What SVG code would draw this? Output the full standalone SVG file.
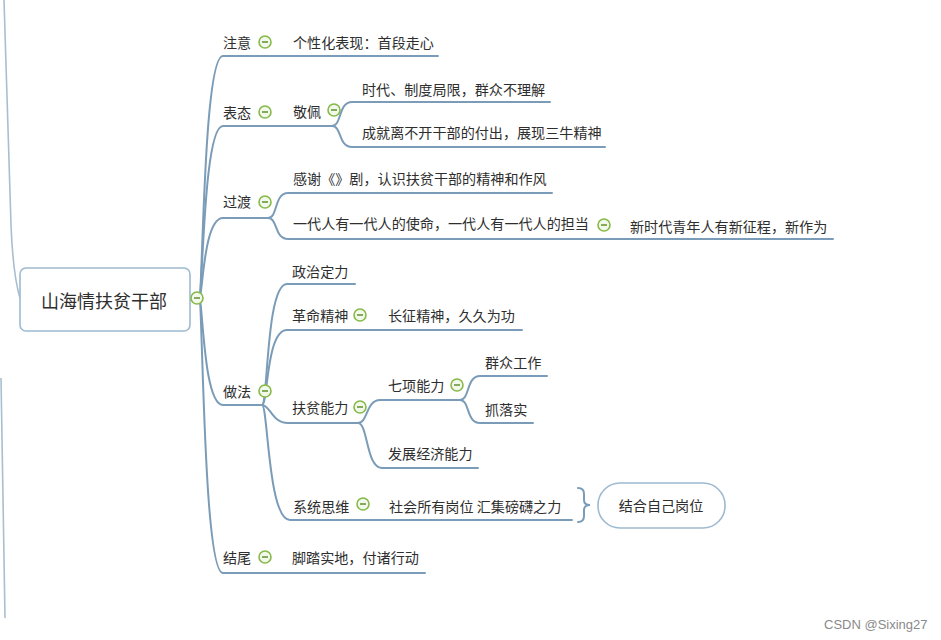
<svg xmlns="http://www.w3.org/2000/svg" width="941" height="640" viewBox="0 0 941 640">
<style>
.ln{fill:none;stroke:#7b9cb8;stroke-width:2;stroke-linecap:round}
.edge{fill:none;stroke:#a9bfd0;stroke-width:1.6}
.t{font-family:"Noto Sans CJK SC","Noto Sans",sans-serif;font-size:14.1px;fill:#2e2e2e;dominant-baseline:central}
.root{font-size:18px}
.box{fill:#fff;stroke:#9dbad0;stroke-width:1.6}
.wm{font-family:"Liberation Sans",Arial,sans-serif;font-size:13px;fill:#8a8a8a}
</style>
<defs>
<g id="col">
<circle cx="0" cy="0" r="6" fill="#f3f9ea" stroke="#86b94a" stroke-width="1.6"/>
<line x1="-3" y1="0" x2="3" y2="0" stroke="#5f8f2e" stroke-width="1.5"/>
</g>
</defs>
<rect width="941" height="640" fill="#fff"/>
<path class="edge" d="M4,0 L11,225 Q13,275 20,298"/>
<path class="edge" d="M1,378 L5,618"/>
<g id="connectors">
<path class="ln" d="M199,298 C203,298 203,56 223,56 L438,56"/>
<path class="ln" d="M199,298 C203,298 203,126 223,126 L332,126"/>
<path class="ln" d="M199,298 C203,298 203,218 223,218 L268,218"/>
<path class="ln" d="M199,298 C203,298 203,405 223,405 L262,405"/>
<path class="ln" d="M199,298 C203,298 203,573 223,573 L425,573"/>
<path class="ln" d="M332,126 C342,126 338,102 352,102 L550,102"/>
<path class="ln" d="M332,126 C342,126 338,147 352,147 L605,147"/>
<path class="ln" d="M268,218 C278,218 274,193 288,193 L552,193"/>
<path class="ln" d="M268,218 C278,218 274,239 288,239 L833,239"/>
<path class="ln" d="M262,405 C268,405 266,284 287,284 L355,284"/>
<path class="ln" d="M262,405 C268,405 266,330 287,330 L522,330"/>
<path class="ln" d="M262,405 C270,405 272,423 288,423 L358,423"/>
<path class="ln" d="M262,405 C268,405 268,520 290,520 L572,520"/>
<path class="ln" d="M358,423 C368,423 366,400 380,400 L460,400"/>
<path class="ln" d="M358,423 C368,423 366,468 382,468 L478,468"/>
<path class="ln" d="M460,400 C470,400 466,376 480,376 L547,376"/>
<path class="ln" d="M460,400 C470,400 466,423 480,423 L533,423"/>
<path class="ln" d="M578,488 Q584,488 584,494 L584,500 Q584,505 590,505 Q584,505 584,510 L584,516 Q584,522 578,522"/>
</g>
<g id="root">
<rect class="box" x="20" y="268" width="170" height="63" rx="6"/>
<text class="t root" x="104" y="300" text-anchor="middle">山海情扶贫干部</text>
<use href="#col" x="197" y="298"/>
</g>
<g id="n-zhuyi"><text class="t" x="223" y="42">注意</text><use href="#col" x="265" y="42"/></g>
<g id="n-gexinghua"><text class="t" x="293" y="42">个性化表现：首段走心</text></g>
<g id="n-biaotai"><text class="t" x="223" y="112">表态</text><use href="#col" x="265" y="112"/></g>
<g id="n-jingpei"><text class="t" x="293" y="111">敬佩</text><use href="#col" x="334" y="110"/></g>
<g id="n-shidai"><text class="t" x="362" y="89">时代、制度局限，群众不理解</text></g>
<g id="n-chengjiu"><text class="t" x="362" y="132">成就离不开干部的付出，展现三牛精神</text></g>
<g id="n-guodu"><text class="t" x="223" y="201">过渡</text><use href="#col" x="265" y="202"/></g>
<g id="n-ganxie"><text class="t" x="293" y="178">感谢《》剧，认识扶贫干部的精神和作风</text></g>
<g id="n-yidairen"><text class="t" x="293" y="223">一代人有一代人的使命，一代人有一代人的担当</text><use href="#col" x="604" y="225"/></g>
<g id="n-xinshidai"><text class="t" x="630" y="226">新时代青年人有新征程，新作为</text></g>
<g id="n-zuofa"><text class="t" x="223" y="391">做法</text><use href="#col" x="265" y="391"/></g>
<g id="n-zhengzhi"><text class="t" x="292" y="271">政治定力</text></g>
<g id="n-geming"><text class="t" x="292" y="315">革命精神</text><use href="#col" x="360" y="315"/></g>
<g id="n-changzheng"><text class="t" x="388" y="315">长征精神，久久为功</text></g>
<g id="n-fupin"><text class="t" x="292" y="407">扶贫能力</text><use href="#col" x="360" y="407"/></g>
<g id="n-qixiang"><text class="t" x="388" y="385">七项能力</text><use href="#col" x="457" y="385"/></g>
<g id="n-qunzhong"><text class="t" x="485" y="362">群众工作</text></g>
<g id="n-zhualuoshi"><text class="t" x="485" y="409">抓落实</text></g>
<g id="n-fazhan"><text class="t" x="388" y="453">发展经济能力</text></g>
<g id="n-xitong"><text class="t" x="293" y="506">系统思维</text><use href="#col" x="363" y="504"/></g>
<g id="n-shehui"><text class="t" x="389" y="506">社会所有岗位 汇集磅礴之力</text></g>
<g id="n-jiehe"><rect class="box" x="598" y="483" width="127" height="45" rx="22"/><text class="t" x="661" y="505" text-anchor="middle">结合自己岗位</text></g>
<g id="n-jiewei"><text class="t" x="223" y="557">结尾</text><use href="#col" x="265" y="557"/></g>
<g id="n-jiaota"><text class="t" x="292" y="557">脚踏实地，付诸行动</text></g>
<text class="wm" x="824" y="629">CSDN @Sixing27</text>
</svg>
